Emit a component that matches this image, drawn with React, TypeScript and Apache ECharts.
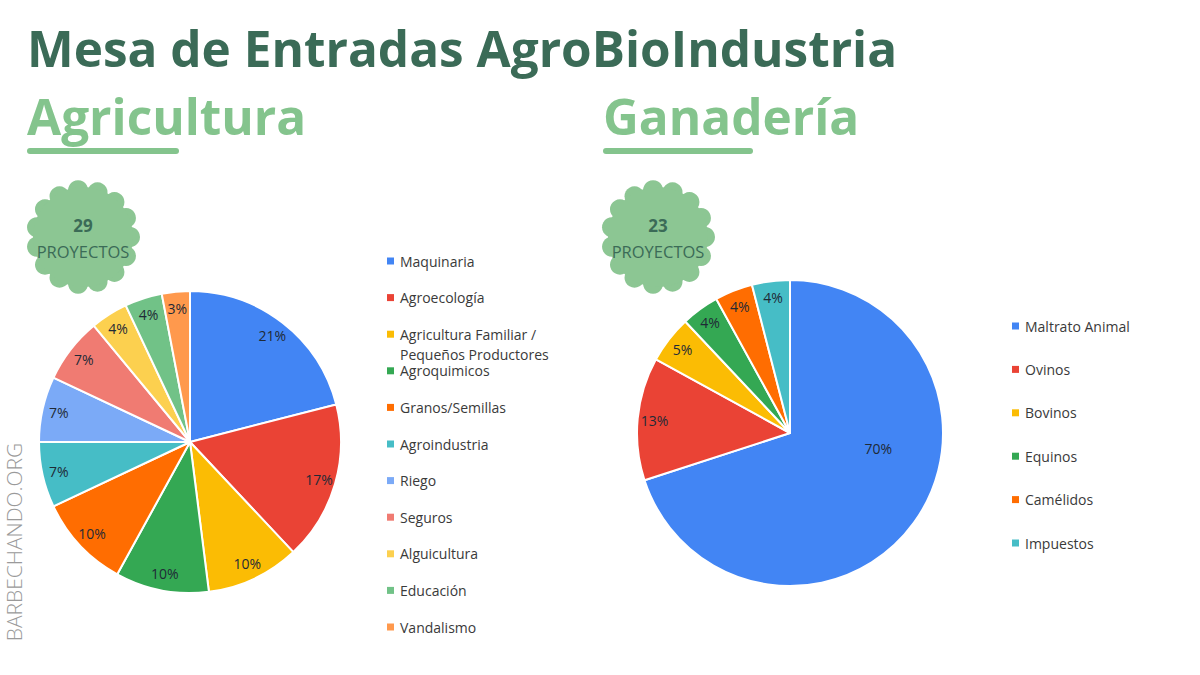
import React, { useEffect, useRef } from "react";
import * as echarts from "echarts";

const titleText = "Mesa de Entradas AgroBioIndustria";
const agriTitle = "Agricultura";
const ganaTitle = "Ganadería";
const badgeWord = "PROYECTOS";
const watermark = "BARBECHANDO.ORG";

const agriProjects = 29;
const ganaProjects = 23;

const agriCategories = [
  "Maquinaria",
  "Agroecología",
  "Agricultura Familiar /\nPequeños Productores",
  "Agroquimicos",
  "Granos/Semillas",
  "Agroindustria",
  "Riego",
  "Seguros",
  "Alguicultura",
  "Educación",
  "Vandalismo",
];
const agriValues = [21, 17, 10, 10, 10, 7, 7, 7, 4, 4, 3];

const ganaCategories = ["Maltrato Animal", "Ovinos", "Bovinos", "Equinos", "Camélidos", "Impuestos"];
const ganaValues = [70, 13, 5, 4, 4, 4];

const palette = [
  "#4285F4",
  "#EA4335",
  "#FBBC04",
  "#34A853",
  "#FF6D01",
  "#46BDC6",
  "#7BAAF7",
  "#F07B72",
  "#FCD04F",
  "#71C287",
  "#FF994D",
];

const DARK_GREEN = "#3b6b57";
const LIGHT_GREEN = "#84c48d";
const BADGE_GREEN = "#8cc693";
const FONT = "'Open Sans', 'Noto Sans', sans-serif";

function pieSeries(
  values: number[],
  cats: string[],
  center: [number, number],
  r: number,
  innerLabelIdx: number[],
  innerOffset: [number, number]
) {
  const main = {
    type: "pie",
    center,
    radius: r,
    startAngle: 90,
    clockwise: true,
    silent: true,
    avoidLabelOverlap: false,
    itemStyle: { borderColor: "#ffffff", borderWidth: 2 },
    label: {
      show: false,
      position: "inside",
      formatter: "{c}%",
      color: "#1f2a36",
      fontSize: 14,
      fontFamily: FONT,
      offset: innerOffset,
    },
    labelLine: { show: false },
    emphasis: { disabled: true },
    data: values.map((v, i) => ({
      name: cats[i],
      value: v,
      itemStyle: { color: palette[i] },
      label: { show: innerLabelIdx.includes(i) },
    })),
  };
  const overlay = {
    type: "pie",
    center,
    radius: [r * 0.74, r],
    startAngle: 90,
    clockwise: true,
    silent: true,
    avoidLabelOverlap: false,
    itemStyle: { color: "rgba(0,0,0,0)", borderWidth: 0 },
    label: {
      show: true,
      position: "inside",
      formatter: "{c}%",
      color: "#1f2a36",
      fontSize: 14,
      fontFamily: FONT,
    },
    labelLine: { show: false },
    emphasis: { disabled: true },
    data: values.map((v, i) => ({
      name: cats[i],
      value: v,
      label: { show: !innerLabelIdx.includes(i) },
    })),
  };
  return [main, overlay];
}

function legendGraphic(cats: string[], x: number, y0: number, step: number) {
  const children: any[] = [];
  cats.forEach((c, i) => {
    const y = y0 + i * step;
    children.push({
      type: "rect",
      shape: { x: x, y: y - 3.5, width: 7, height: 7 },
      style: { fill: palette[i] },
    });
    children.push({
      type: "text",
      x: x + 13,
      y: y - 10,
      style: {
        text: c,
        fill: "#3a3a3a",
        font: `14px ${FONT}`,
        textVerticalAlign: "top",
        lineHeight: 20,
      },
    });
  });
  return { type: "group", children };
}

function badge(cx: number, cy: number, count: number) {
  const children: any[] = [];
  const n = 15;
  for (let k = 0; k < n; k++) {
    const a = (k / n) * Math.PI * 2;
    children.push({
      type: "circle",
      shape: { cx: cx + Math.cos(a) * 47, cy: cy + Math.sin(a) * 47, r: 10 },
      style: { fill: BADGE_GREEN },
    });
  }
  children.push({
    type: "circle",
    shape: { cx, cy, r: 50 },
    style: { fill: BADGE_GREEN },
  });
  children.push({
    type: "text",
    x: cx,
    y: cy - 12,
    style: {
      text: String(count),
      fill: DARK_GREEN,
      font: `bold 17px ${FONT}`,
      textAlign: "center",
      textVerticalAlign: "middle",
    },
  });
  children.push({
    type: "text",
    x: cx,
    y: cy + 14,
    style: {
      text: badgeWord,
      fill: DARK_GREEN,
      font: `16.5px ${FONT}`,
      textAlign: "center",
      textVerticalAlign: "middle",
    },
  });
  return { type: "group", children };
}

export default function App() {
  const ref = useRef<HTMLDivElement>(null);
  useEffect(() => {
    if (!ref.current) return;
    const chart = echarts.init(ref.current, undefined, { renderer: "svg" });
    const option: any = {
      animation: false,
      backgroundColor: "#ffffff",
      series: [
        ...pieSeries(agriValues, agriCategories, [190, 442], 151, [], [0, 0]),
        ...pieSeries(ganaValues, ganaCategories, [790, 433], 153, [0], [24, -31]),
      ],
      graphic: [
        {
          type: "text",
          x: 27,
          y: 48,
          style: {
            text: titleText,
            fill: DARK_GREEN,
            font: `bold 49.5px ${FONT}`,
            textVerticalAlign: "middle",
          },
        },
        {
          type: "text",
          x: 27,
          y: 116,
          style: {
            text: agriTitle,
            fill: LIGHT_GREEN,
            font: `bold 49.5px ${FONT}`,
            textVerticalAlign: "middle",
          },
        },
        {
          type: "text",
          x: 603,
          y: 116,
          style: {
            text: ganaTitle,
            fill: LIGHT_GREEN,
            font: `bold 49.5px ${FONT}`,
            textVerticalAlign: "middle",
          },
        },
        {
          type: "rect",
          shape: { x: 27, y: 148, width: 152, height: 6, r: 3 },
          style: { fill: LIGHT_GREEN },
        },
        {
          type: "rect",
          shape: { x: 603, y: 148, width: 150, height: 6, r: 3 },
          style: { fill: LIGHT_GREEN },
        },
        badge(83, 237, agriProjects),
        badge(658, 237, ganaProjects),
        legendGraphic(agriCategories, 387, 261, 36.6),
        legendGraphic(ganaCategories, 1012, 326, 43.4),
        {
          type: "text",
          x: 14,
          y: 542,
          rotation: Math.PI / 2,
          style: {
            text: watermark,
            fill: "#9a9a9a",
            font: `300 21px ${FONT}`,
            textAlign: "center",
            textVerticalAlign: "middle",
          },
        },
      ],
    };
    chart.setOption(option);
    return () => chart.dispose();
  }, []);
  return (
    <div
      ref={ref}
      style={{ position: "fixed", left: 0, top: 0, width: 1200, height: 675, background: "#fff" }}
    />
  );
}
